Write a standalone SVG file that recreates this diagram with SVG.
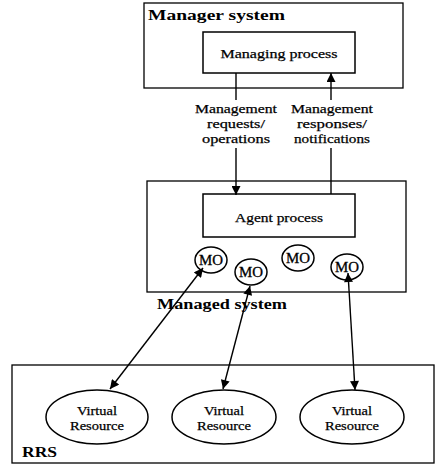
<svg xmlns="http://www.w3.org/2000/svg" width="435" height="464" viewBox="0 0 435 464">
<defs>
<marker id="ah" viewBox="0 0 10 10" refX="10" refY="5" markerWidth="11" markerHeight="9" markerUnits="userSpaceOnUse" orient="auto-start-reverse">
<path d="M0,0 L10,5 L0,10 z" fill="#000"/>
</marker>
<style>
.box{fill:none;stroke:#000;stroke-width:1.3}
.node{fill:#fff;stroke:#000;stroke-width:1.5}
.t{font-family:"Liberation Serif","Times New Roman",serif;font-size:13px;fill:#000;stroke:#000;stroke-width:0.25;text-anchor:middle}
.m{font-family:"Liberation Serif","Times New Roman",serif;font-size:15px;fill:#000;stroke:#000;stroke-width:0.3;text-anchor:middle}
.b{font-family:"Liberation Serif","Times New Roman",serif;font-size:15px;font-weight:bold;fill:#000}
.c{stroke:#000;stroke-width:1.4;fill:none}
</style>
</defs>
<rect width="435" height="464" fill="#fff"/>
<g id="manager-system">
<rect class="box" x="144" y="3" width="259" height="85"/>
<text class="b" x="148" y="20" textLength="137" lengthAdjust="spacingAndGlyphs">Manager system</text>
</g>
<g id="managed-system">
<rect class="box" x="147" y="181" width="259" height="111"/>
<text class="b" x="157" y="309" textLength="130" lengthAdjust="spacingAndGlyphs">Managed system</text>
</g>
<g id="rrs">
<rect class="box" x="12" y="365" width="422" height="98"/>
<text class="b" x="22" y="457" textLength="35" lengthAdjust="spacingAndGlyphs">RRS</text>
</g>
<g id="managing-process">
<rect class="node" x="203" y="32" width="152" height="41"/>
<text class="t" x="279" y="58" textLength="117" lengthAdjust="spacingAndGlyphs">Managing process</text>
</g>
<g id="agent-process">
<rect class="node" x="203" y="194" width="152" height="43"/>
<text class="t" x="279" y="222" textLength="88" lengthAdjust="spacingAndGlyphs">Agent process</text>
</g>
<g id="mo1"><ellipse class="node" cx="211" cy="260" rx="16" ry="13"/><text class="m" x="211" y="265" textLength="24" lengthAdjust="spacingAndGlyphs">MO</text></g>
<g id="mo2"><ellipse class="node" cx="251" cy="272" rx="16" ry="13"/><text class="m" x="251" y="277" textLength="24" lengthAdjust="spacingAndGlyphs">MO</text></g>
<g id="mo3"><ellipse class="node" cx="298" cy="258" rx="16" ry="13"/><text class="m" x="298" y="263" textLength="24" lengthAdjust="spacingAndGlyphs">MO</text></g>
<g id="mo4"><ellipse class="node" cx="347" cy="267" rx="16" ry="13"/><text class="m" x="347" y="272" textLength="24" lengthAdjust="spacingAndGlyphs">MO</text></g>
<g id="vr1"><ellipse class="node" cx="97" cy="417" rx="51" ry="27"/><text class="t" x="97" y="415" textLength="40" lengthAdjust="spacingAndGlyphs">Virtual</text><text class="t" x="97" y="430" textLength="54" lengthAdjust="spacingAndGlyphs">Resource</text></g>
<g id="vr2"><ellipse class="node" cx="224" cy="417" rx="52" ry="27"/><text class="t" x="224" y="415" textLength="40" lengthAdjust="spacingAndGlyphs">Virtual</text><text class="t" x="224" y="430" textLength="54" lengthAdjust="spacingAndGlyphs">Resource</text></g>
<g id="vr3"><ellipse class="node" cx="352" cy="417" rx="52" ry="27"/><text class="t" x="352" y="415" textLength="40" lengthAdjust="spacingAndGlyphs">Virtual</text><text class="t" x="352" y="430" textLength="54" lengthAdjust="spacingAndGlyphs">Resource</text></g>
<g id="connectors">
<line class="c" x1="236" y1="73" x2="236" y2="100"/>
<line class="c" x1="236" y1="148" x2="236" y2="195" marker-end="url(#ah)"/>
<line class="c" x1="331" y1="100" x2="331" y2="73" marker-end="url(#ah)"/>
<line class="c" x1="331" y1="194" x2="331" y2="148"/>
<line class="c" x1="203" y1="268" x2="110" y2="389" marker-start="url(#ah)" marker-end="url(#ah)"/>
<line class="c" x1="250" y1="286" x2="223" y2="389" marker-start="url(#ah)" marker-end="url(#ah)"/>
<line class="c" x1="348" y1="273" x2="355" y2="390" marker-start="url(#ah)" marker-end="url(#ah)"/>
</g>
<g id="labels">
<text class="t" x="236" y="113" textLength="82" lengthAdjust="spacingAndGlyphs">Management</text>
<text class="t" x="236" y="128" textLength="58" lengthAdjust="spacingAndGlyphs">requests/</text>
<text class="t" x="236" y="143" textLength="68" lengthAdjust="spacingAndGlyphs">operations</text>
<text class="t" x="332" y="113" textLength="82" lengthAdjust="spacingAndGlyphs">Management</text>
<text class="t" x="332" y="128" textLength="70" lengthAdjust="spacingAndGlyphs">responses/</text>
<text class="t" x="332" y="143" textLength="76" lengthAdjust="spacingAndGlyphs">notifications</text>
</g>
</svg>
